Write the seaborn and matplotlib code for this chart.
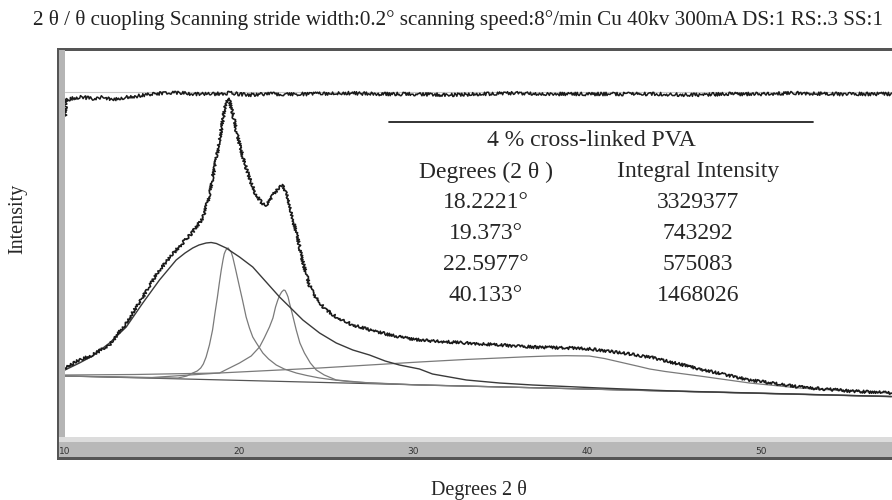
import matplotlib
matplotlib.use("Agg")
import matplotlib.pyplot as plt
import seaborn as sns
from matplotlib.patches import Rectangle

# XRD scan of 4 % cross-linked PVA
# 2theta in degrees, intensity in arbitrary units
scan_deg = [10.0, 10.4, 10.83, 11.58, 12.56, 13.52, 14.47, 15.43, 16.39, 17.34, 17.92, 18.2,
            18.48, 18.7, 18.88, 19.05, 19.17, 19.27, 19.36, 19.45, 19.55, 19.7, 19.84, 20.03,
            20.22, 20.45, 20.7, 20.95, 21.18, 21.37, 21.56, 21.75, 21.94, 22.14, 22.33, 22.45,
            22.52, 22.62, 22.8, 22.95, 23.09, 23.29, 23.48, 23.67, 23.86, 24.05, 24.3, 24.63,
            25.01, 25.59, 26.54, 27.33, 28.46, 29.22, 30.37, 31.12, 33.07, 34.97, 36.87, 38.82,
            39.57, 40.72, 42.0, 43.6, 46.47, 49.34, 52.21, 55.09, 57.5]
scan_int = [72, 76, 80, 85, 95, 117, 143, 170, 190, 208, 222, 238,
            262, 282, 300, 318, 330, 338, 342, 339, 333, 322, 310, 296,
            283, 270, 257, 246, 240, 236, 235, 239, 245, 249, 253, 254,
            255, 251, 243, 232, 220, 208, 193, 178, 166, 155, 145, 137,
            130, 123, 115, 111, 106, 103, 100, 99, 97, 95, 93, 92,
            92, 90, 87, 83, 71, 60, 53, 49, 47]

# upper trace
top_deg = [10.0, 10.05, 10.5, 11.0, 11.6, 12.2, 12.8, 13.5, 14.2, 15.0, 15.8, 16.6, 17.5,
           18.5, 19.5, 20.5, 21.5, 22.5, 24, 26, 28, 30, 32, 34, 36, 38, 40, 42, 44, 46,
           48, 50, 52, 54, 56, 57.5]
top_int = [324, 340, 342, 343, 341, 343, 340, 343, 344, 346, 347, 347, 346,
           346, 347, 345, 346, 346, 346, 347, 346, 346, 345, 346, 347, 346, 346, 346, 346, 345,
           346, 346, 347, 346, 346, 346]
ref_level = 348

# fitted components (baseline included)
broad_deg = [10.0, 10.83, 11.58, 12.56, 13.52, 14.47, 15.43, 16.39, 16.9, 17.34, 17.7, 18.11,
             18.4, 18.7, 19.26, 19.6, 20.03, 20.79, 21.56, 22.33, 23.09, 23.67, 24.63, 25.59,
             26.54, 27.5, 28.4, 29.22, 30.37, 31.12, 33.07, 34.97, 36.87, 40.72, 45.0, 57.5]
broad_int = [70, 77, 84, 97, 113, 137, 160, 180, 187, 192, 195, 197,
             197.5, 196.5, 192, 188, 183, 173, 158, 143, 130, 120, 107, 97,
             90, 85, 79, 75, 71, 66, 60, 57, 55, 52, 49, 43.5]

p19_deg = [10.0, 14.0, 16.5, 17.0, 17.34, 17.6, 17.8, 17.95, 18.11, 18.3, 18.48, 18.62,
           18.76, 18.87, 18.98, 19.08, 19.15, 19.22, 19.3, 19.38, 19.45, 19.55, 19.64, 19.8,
           20.03, 20.2, 20.41, 20.6, 20.79, 21.0, 21.37, 21.7, 22.14, 22.6, 23.29, 23.9,
           24.63, 25.5, 26.54, 30.37, 40.0, 57.5]
p19_int = [64, 62.5, 62, 64, 67, 69, 72, 76, 83, 95, 110, 127,
           143, 157, 170, 180, 186, 189, 191.5, 192, 190, 188, 183, 171,
           153, 140, 123, 112, 103, 97, 87, 81, 75, 71, 67, 64.5,
           62, 60, 58, 55, 51, 43.5]

p22_deg = [10.0, 15.0, 18.88, 20.03, 20.7, 21.18, 21.45, 21.75, 21.95, 22.1, 22.23, 22.35,
           22.45, 22.57, 22.65, 22.75, 22.82, 22.9, 23.05, 23.29, 23.5, 23.76, 24.1, 24.44,
           24.9, 25.59, 27.5, 30.37, 40.0, 57.5]
p22_int = [64, 62.5, 67, 77, 84, 93, 102, 113, 122, 133, 140, 145,
           148, 150, 149.5, 146, 143, 137, 127, 110, 97, 87, 77, 70,
           65, 60, 57, 55, 51, 43.5]

p40_deg = [10.0, 14.0, 18.88, 24.63, 30.37, 33.0, 34.97, 36.5, 37.8, 38.82, 40.13, 41.0,
           42.0, 43.0, 43.6, 44.5, 46.47, 49.34, 52.21, 55.09, 57.5]
p40_int = [65, 65.5, 67, 72, 78, 80.5, 82, 83.2, 84, 84.3, 84, 81.5,
           77.5, 73.5, 71, 68.5, 64, 57, 52, 49, 47]

base_deg = [10.0, 57.5]
base_int = [64, 43.3]

# fit results table
peak_deg = [18.2221, 19.373, 22.5977, 40.133]
peak_area = [3329377, 743292, 575083, 1468026]

title_text = "2 θ / θ cuopling Scanning stride width:0.2° scanning speed:8°/min Cu 40kv 300mA DS:1 RS:.3 SS:1"

W, H = 892, 500


def fx(px):
    return px / W


def fy(py):
    return 1 - py / H


sns.set_style("white")
plt.rcParams['font.family'] = ['Liberation Serif', 'DejaVu Serif']

fig = plt.figure(figsize=(8.92, 5), dpi=100)
ax = fig.add_axes([fx(65), fy(437), fx(892) - fx(65), fy(52) - fy(437)])

# frame of the instrument window
frame = [
    (57, 48, 835, 2.5, '#555555'),
    (57, 48, 2, 412, '#555555'),
    (59, 50, 6, 390, '#b5b5b5'),
    (59, 437, 833, 5, '#dcdcdc'),
    (59, 442, 833, 15, '#b8b8b8'),
    (57, 457, 835, 3, '#555555'),
]
for x0, y0, w, h, c in frame:
    fig.add_artist(Rectangle((fx(x0), fy(y0 + h)), w / W, h / H, transform=fig.transFigure,
                             facecolor=c, edgecolor='none', zorder=-1))

sns.lineplot(x=base_deg, y=base_int, ax=ax, color='#555555', lw=0.9)
for xs, ys in [(p19_deg, p19_int), (p22_deg, p22_int), (p40_deg, p40_int)]:
    sns.lineplot(x=xs, y=ys, ax=ax, color='#7a7a7a', lw=0.9, sort=False)
sns.lineplot(x=broad_deg, y=broad_int, ax=ax, color='#3a3a3a', lw=1.0, sort=False)
ax.axhline(ref_level, color='#c8c8c8', lw=0.8)

sns.lineplot(x=scan_deg, y=scan_int, ax=ax, color='#1a1a1a', lw=1.2, sort=False)
ax.lines[-1].set_sketch_params(scale=1.4, length=1.5, randomness=3)
sns.lineplot(x=top_deg, y=top_int, ax=ax, color='#1a1a1a', lw=1.1, sort=False)
ax.lines[-1].set_sketch_params(scale=1.7, length=1.5, randomness=3)

ax.set_xlim(10, 10 + 827 / 17.4)
ax.set_ylim(3, 388)
ax.set_yticks([])
ax.set_xticks([10, 20, 30, 40, 50])
ax.set_xticks(range(12, 58, 2), minor=True)
ax.tick_params(axis='x', which='major', direction='out', length=4, width=0.8, color='#444444',
               pad=3, labelsize=6.5, labelcolor='#333333')
ax.tick_params(axis='x', which='minor', direction='out', length=2.5, width=0.7, color='#444444')
for lab in ax.get_xticklabels():
    lab.set_fontfamily('DejaVu Sans')
for s in ax.spines.values():
    s.set_visible(False)
ax.set_xlabel('')
ax.set_ylabel('')

# table of the fitted peaks
ax.plot([fx(389), fx(813)], [fy(122), fy(122)], transform=fig.transFigure, color='#222222', lw=1.3,
        clip_on=False)
fig.text(fx(591), fy(141), "4 % cross-linked PVA", ha='center', va='center', fontsize=17)
fig.text(fx(486), fy(172), "Degrees (2 θ )", ha='center', va='center', fontsize=17)
fig.text(fx(698), fy(172), "Integral Intensity", ha='center', va='center', fontsize=17)
for i, (d, a) in enumerate(zip(peak_deg, peak_area)):
    yy = 203 + i * 30.7
    fig.text(fx(486), fy(yy), f"{d}°", ha='center', va='center', fontsize=17)
    fig.text(fx(698), fy(yy), f"{a}", ha='center', va='center', fontsize=17)

fig.text(fx(17.5), fy(219), "Intensity", rotation=90, ha='center', va='center', fontsize=14.5)
fig.text(fx(479), fy(490), "Degrees 2 θ", ha='center', va='center', fontsize=14.5)

t = fig.text(fx(33), fy(20), title_text, ha='left', va='center',
             family=['Liberation Serif', 'DejaVu Serif'], fontsize=12, color='#222222')
fig.canvas.draw()
w = t.get_window_extent().width
t.set_fontsize(12 * 852 / w)

fig.savefig('out.png', dpi=100)
